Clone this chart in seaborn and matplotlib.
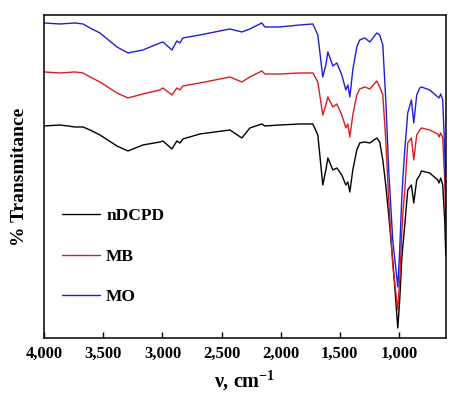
import numpy as np
import pandas as pd
import matplotlib
matplotlib.use("Agg")
import matplotlib.pyplot as plt
import matplotlib.ticker as mticker
import seaborn as sns

# wavenumber grid (cm-1)
wavenumber = [4000, 3867, 3740, 3673, 3613, 3529, 3385, 3292, 3165, 3021,
              2996, 2920, 2878, 2852, 2827, 2683, 2429, 2328, 2260, 2159,
              2133, 2006, 1837, 1727, 1685, 1643, 1617, 1600, 1558, 1524,
              1482, 1448, 1431, 1414, 1389, 1355, 1330, 1288, 1245, 1186,
              1161, 1135, 1110, 1085, 1051, 1008, 992, 975, 966, 949,
              924, 893, 873, 848, 822, 808, 738, 670, 659, 645,
              628, 611, 602]

# % transmittance (arbitrary, stacked) for each sample
t_mo = [315, 314, 315, 314, 310, 305, 291, 285, 288, 295,
        296, 288, 297, 295, 300, 303, 309, 306, 309, 315,
        311, 311, 313, 314, 303, 261, 273, 286, 272, 275,
        263, 248, 253, 241, 268, 291, 298, 300, 296, 305,
        303, 293, 238, 168, 98, 51, 88, 138, 158, 188,
        225, 238, 215, 243, 250, 251, 248, 241, 240, 244,
        238, 188, 138]
t_mb = [266, 265, 266, 265, 261, 256, 245, 240, 244, 248,
        250, 243, 250, 248, 252, 255, 261, 256, 261, 267,
        264, 264, 265, 265, 256, 223, 233, 241, 231, 234,
        223, 210, 214, 201, 223, 243, 249, 251, 249, 257,
        251, 243, 198, 138, 73, 28, 58, 103, 123, 148,
        195, 200, 178, 203, 208, 210, 208, 204, 201, 205,
        200, 158, 113]
t_ndcpd = [212, 213, 211, 211, 208, 203, 192, 187, 193, 196,
           197, 189, 197, 195, 199, 204, 208, 200, 210, 214,
           212, 213, 214, 214, 203, 153, 168, 180, 168, 170,
           163, 153, 156, 146, 168, 188, 195, 196, 195, 200,
           196, 178, 153, 123, 78, 10, 38, 78, 91, 113,
           148, 153, 135, 158, 163, 167, 165, 158, 155, 160,
           153, 118, 83]

samples = ["nDCPD", "MB", "MO"]
colors = ["#000000", "#D81E1E", "#1E1ED8"]

df = pd.concat([
    pd.DataFrame({"wn": wavenumber, "T": t_ndcpd, "sample": "nDCPD"}),
    pd.DataFrame({"wn": wavenumber, "T": t_mb, "sample": "MB"}),
    pd.DataFrame({"wn": wavenumber, "T": t_mo, "sample": "MO"}),
])

sns.set_theme(style="ticks")
plt.rcParams["font.family"] = ["Liberation Serif", "DejaVu Serif"]
plt.rcParams["font.weight"] = "bold"
plt.rcParams["mathtext.fontset"] = "custom"
plt.rcParams["mathtext.rm"] = "Liberation Serif:bold"
plt.rcParams["mathtext.bf"] = "Liberation Serif:bold"
plt.rcParams["mathtext.default"] = "bf"
plt.rcParams["text.color"] = "black"
plt.rcParams["axes.labelcolor"] = "black"
plt.rcParams["xtick.color"] = "black"
plt.rcParams["ytick.color"] = "black"

fig = plt.figure(figsize=(4.6, 3.96), dpi=100)
ax = fig.add_axes([0.0963, 0.1465, 0.8733, 0.8157])

sns.lineplot(data=df, x="wn", y="T", hue="sample", hue_order=samples,
             palette=colors, linewidth=1.0, ax=ax, estimator=None)

ax.set_xlim(4000, 600)
ax.set_ylim(0, 323)
ax.set_xticks([4000, 3500, 3000, 2500, 2000, 1500, 1000])
ax.xaxis.set_major_formatter(mticker.StrMethodFormatter("{x:,.0f}"))
ax.set_yticks([])
ax.tick_params(axis="x", direction="in", length=4, width=1, labelsize=12, pad=6,
               colors="black")
for lab in ax.get_xticklabels():
    lab.set_fontweight("bold")
for sp in ax.spines.values():
    sp.set_linewidth(1.1)
    sp.set_color("black")

ax.set_xlabel("ν, cm$^{-1}$", fontsize=14.5, fontweight="bold", labelpad=5)
ax.set_ylabel("% Transmitance", fontsize=14, fontweight="bold", labelpad=12)

leg = ax.legend(loc="upper left", bbox_to_anchor=(0.005, 0.45), frameon=False,
                handlelength=2.2, handletextpad=0.35, labelspacing=1.4,
                prop={"weight": "bold", "size": 12.5})
for txt in leg.get_texts():
    txt.set_color("black")

fig.savefig("out.png", dpi=100)
